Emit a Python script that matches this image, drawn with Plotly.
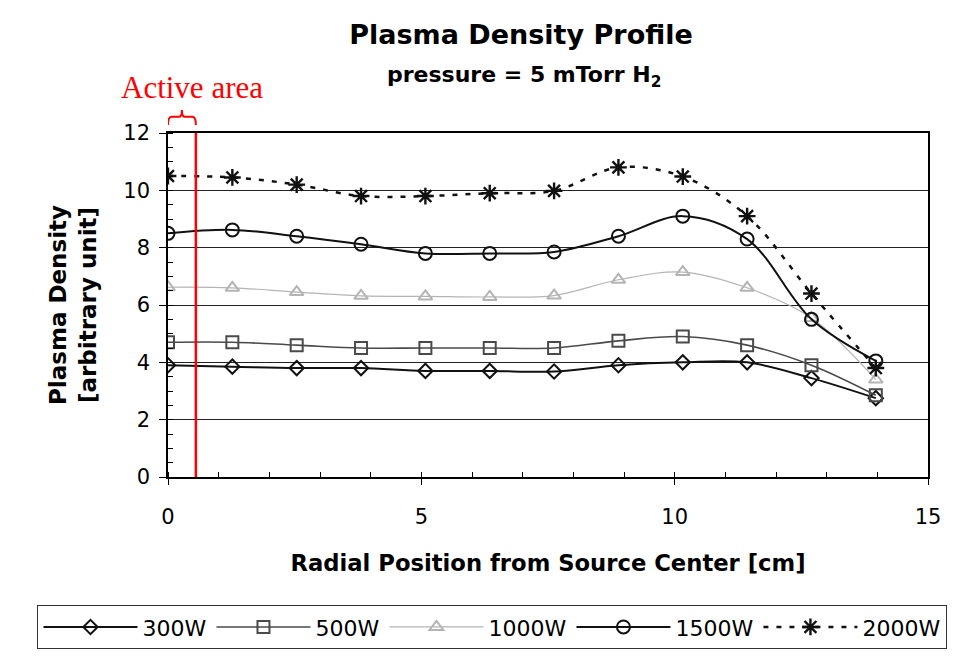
import plotly.graph_objects as go

# Data
radial_cm = [0, 1.27, 2.54, 3.81, 5.08, 6.35, 7.62, 8.89, 10.16, 11.43, 12.70, 13.97]
p300 = [3.9, 3.85, 3.8, 3.8, 3.7, 3.7, 3.68, 3.9, 4.0, 4.0, 3.45, 2.75]
p500 = [4.7, 4.7, 4.6, 4.5, 4.5, 4.5, 4.5, 4.75, 4.9, 4.6, 3.9, 2.85]
p1000 = [6.62, 6.6, 6.45, 6.32, 6.3, 6.28, 6.33, 6.88, 7.15, 6.6, 5.55, 3.4]
p1500 = [8.5, 8.62, 8.4, 8.12, 7.8, 7.8, 7.85, 8.4, 9.1, 8.3, 5.5, 4.05]
p2000 = [10.5, 10.45, 10.2, 9.8, 9.8, 9.9, 9.98, 10.8, 10.48, 9.1, 6.4, 3.8]
series_names = ["300W", "500W", "1000W", "1500W", "2000W"]
active_edge_cm = 0.55
x_ticks = [0, 5, 10, 15]
y_ticks = [0, 2, 4, 6, 8, 10, 12]

FONT = "DejaVu Sans"

styles = [
    dict(color="#111111", width=2, dash="solid", symbol="diamond-open", size=11),
    dict(color="#4a4a4a", width=1.6, dash="solid", symbol="square-open", size=12),
    dict(color="#b4b4b4", width=1.2, dash="solid", symbol="triangle-up-open", size=12),
    dict(color="#111111", width=2, dash="solid", symbol="circle-open", size=13),
    dict(color="#111111", width=2.5, dash="5px,8px", symbol="asterisk-open", size=14),
]
values = [p300, p500, p1000, p1500, p2000]

fig = go.Figure()
for name, vals, st in zip(series_names, values, styles):
    fig.add_trace(go.Scatter(
        x=radial_cm, y=vals, name=name, mode="lines+markers",
        line=dict(color=st["color"], width=st["width"], dash=st["dash"], shape="spline"),
        marker=dict(symbol=st["symbol"], size=st["size"], color=st["color"],
                    line=dict(width=2 if st["symbol"] != "asterisk-open" else 2.4, color=st["color"])),
    ))

# Active area marker line
fig.add_shape(type="line", xref="x", yref="y", x0=active_edge_cm, x1=active_edge_cm,
              y0=0, y1=12, line=dict(color="#ff0000", width=2.5), layer="above")
# Brace over active area
b = active_edge_cm
m = b / 2
fig.add_shape(type="path", xref="x", yref="paper",
              path=(f"M 0,1.023 Q 0,1.047 0.07,1.047 L {m-0.06},1.047 Q {m},1.047 {m},1.067 "
                    f"Q {m},1.047 {m+0.06},1.047 L {b-0.07},1.047 Q {b},1.047 {b},1.023"),
              line=dict(color="#ff0000", width=2))

fig.add_annotation(text="Active area", xref="paper", yref="paper", x=0.0316, y=1.131,
                   showarrow=False, xanchor="center", yanchor="middle",
                   font=dict(family="Liberation Serif", size=31, color="#ff0000"))

fig.add_annotation(text="<b>pressure = 5 mTorr H<sub>2</sub></b>", xref="paper", yref="paper",
                   x=0.468, y=1.1636, showarrow=False, xanchor="center", yanchor="middle",
                   font=dict(family=FONT, size=22, color="black"))

# The page body has an 8px margin, so the figure is 8px smaller and margins shifted
fig.update_layout(
    width=949, height=657,
    margin=dict(l=160, r=29, t=125, b=188, autoexpand=False),
    paper_bgcolor="white", plot_bgcolor="white",
    font=dict(family=FONT, color="black"),
    title=dict(text="<b>Plasma Density Profile</b>", x=0.4645, xref="paper",
               y=1 - 27 / 657, yref="container", xanchor="center", yanchor="middle",
               font=dict(family=FONT, size=27, color="black")),
    showlegend=True,
    legend=dict(orientation="h", x=-0.172, y=-0.372, xanchor="left", yanchor="top",
                bordercolor="#333333", borderwidth=1.2, bgcolor="white",
                font=dict(family=FONT, size=22, color="black"),
                itemwidth=94, traceorder="normal"),
)

fig.update_xaxes(
    range=[0, 15], tickvals=x_ticks, ticktext=[str(v) for v in x_ticks],
    showgrid=False, zeroline=False, automargin=False,
    showline=True, linecolor="black", linewidth=1.5, mirror=True,
    ticks="outside", ticklen=6, tickcolor="black",
    minor=dict(dtick=1, ticks="inside", ticklen=5, tickcolor="black", showgrid=False),
    tickfont=dict(family=FONT, size=21, color="black"),
    ticklabelstandoff=14,
    title=dict(text="<b>Radial Position from Source Center [cm]</b>", standoff=27,
               font=dict(family=FONT, size=22.7, color="black")),
)
fig.update_yaxes(
    range=[0, 12], tickvals=y_ticks, ticktext=[str(v) for v in y_ticks],
    showgrid=True, gridcolor="#222222", gridwidth=1,
    zeroline=False, automargin=False,
    showline=True, linecolor="black", linewidth=1.5, mirror=True,
    ticks="outside", ticklen=7, tickcolor="black",
    minor=dict(dtick=0.5, ticks="inside", ticklen=5, tickcolor="black", showgrid=False),
    tickfont=dict(family=FONT, size=21, color="black"),
    ticklabelstandoff=5,
    title=dict(text="<b>Plasma Density<br>[arbitrary unit]</b>", standoff=20,
               font=dict(family=FONT, size=23, color="black")),
)

fig.write_html("out.html")
